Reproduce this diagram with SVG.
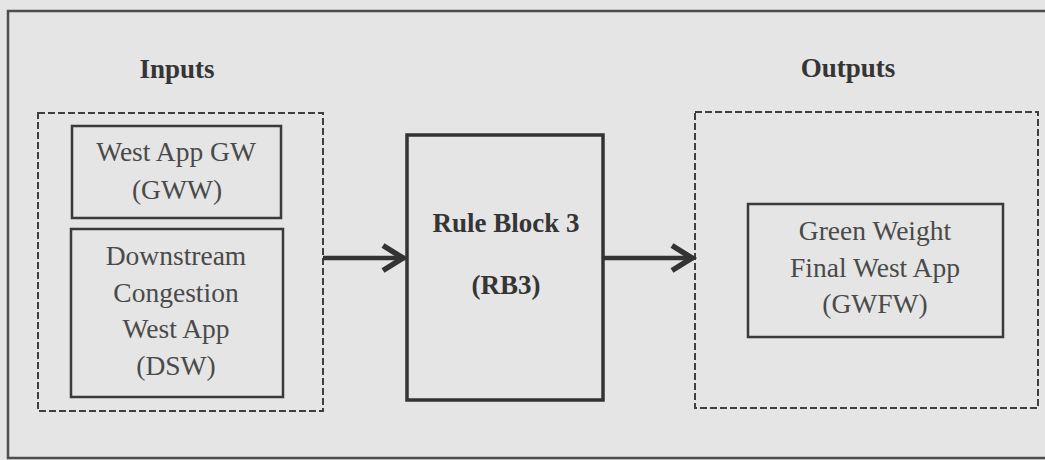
<svg xmlns="http://www.w3.org/2000/svg" width="1045" height="460" viewBox="0 0 1045 460">
  <style>
    .frame { fill: none; stroke: #4d4d4d; stroke-width: 2.5; }
    .group { fill: none; stroke: #3f3f3f; stroke-width: 2; stroke-dasharray: 7 3; }
    .box { fill: none; stroke: #3a3a3a; stroke-width: 2.5; }
    .block { fill: none; stroke: #333; stroke-width: 3.5; }
    .txt { font-family: "Liberation Serif", "Times New Roman", serif; font-size: 27.5px; fill: #4a4a4a; text-anchor: middle; }
    .bold { font-family: "Liberation Serif", "Times New Roman", serif; font-size: 27px; font-weight: bold; fill: #353535; text-anchor: middle; }
    .link { stroke: #333; stroke-width: 4.5; fill: none; }
  </style>
  <defs>
    <marker id="chev" markerUnits="userSpaceOnUse" markerWidth="34" markerHeight="36" viewBox="-28 -18 34 36" refX="0" refY="0" orient="auto" overflow="visible">
      <path d="M-22,-12.5 L-2,0 L-22,12.5" fill="none" stroke="#333" stroke-width="5.5" stroke-linejoin="miter"/>
    </marker>
  </defs>

  <!-- page background and frame -->
  <rect x="0" y="0" width="1045" height="460" fill="#e4e5e4"/>
  <rect class="frame" x="8" y="11" width="1045" height="447"/>

  <!-- section titles -->
  <text class="bold" x="177" y="78">Inputs</text>
  <text class="bold" x="848" y="77">Outputs</text>

  <!-- input group -->
  <g id="inputs">
    <rect class="group" x="38" y="113" width="285" height="298"/>
    <g id="gww">
      <rect class="box" x="72" y="126" width="209" height="92"/>
      <text class="txt" x="176" y="161">West App GW</text>
      <text class="txt" x="177" y="199">(GWW)</text>
    </g>
    <g id="dsw">
      <rect class="box" x="71" y="229" width="212" height="168"/>
      <text class="txt" x="176" y="265">Downstream</text>
      <text class="txt" x="176" y="302">Congestion</text>
      <text class="txt" x="176" y="338">West App</text>
      <text class="txt" x="176" y="375">(DSW)</text>
    </g>
  </g>

  <!-- rule block -->
  <g id="rb3">
    <rect class="block" x="407" y="135" width="196" height="265"/>
    <text class="bold" x="506" y="232">Rule Block 3</text>
    <text class="bold" x="506" y="294">(RB3)</text>
  </g>

  <!-- output group -->
  <g id="outputs">
    <rect class="group" x="695" y="112" width="343" height="296"/>
    <g id="gwfw">
      <rect class="box" x="748" y="204" width="255" height="133"/>
      <text class="txt" x="875" y="240">Green Weight</text>
      <text class="txt" x="875" y="277">Final West App</text>
      <text class="txt" x="875" y="313">(GWFW)</text>
    </g>
  </g>

  <!-- connectors -->
  <g id="connectors">
    <line class="link" x1="323" y1="258" x2="405" y2="258" marker-end="url(#chev)"/>
    <line class="link" x1="603" y1="258" x2="694" y2="258" marker-end="url(#chev)"/>
  </g>
</svg>
